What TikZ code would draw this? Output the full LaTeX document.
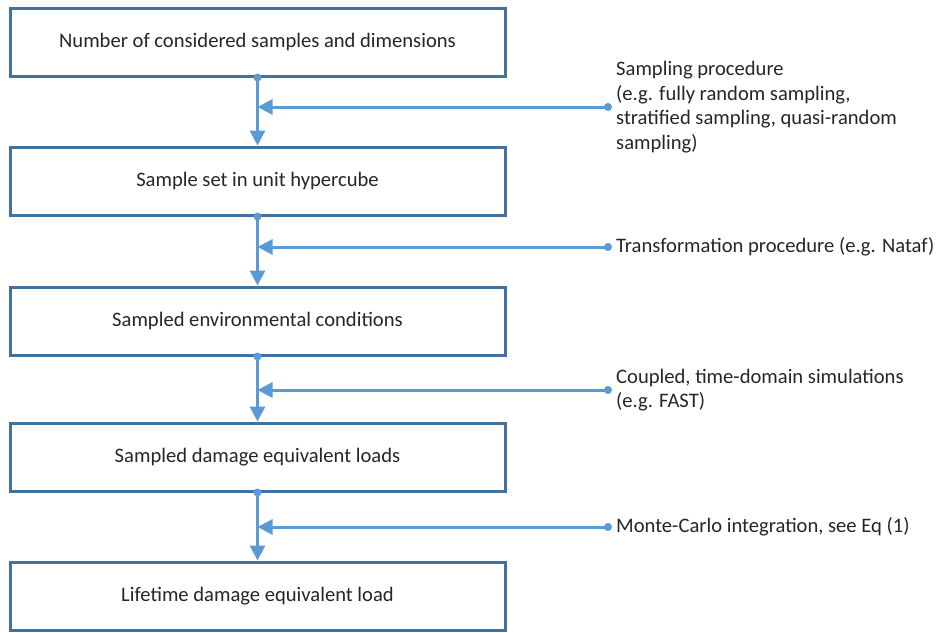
\documentclass[tikz,border=0pt]{standalone}
\usepackage{fontspec}
\setmainfont{Carlito}
\usetikzlibrary{arrows.meta}
\definecolor{boxblue}{HTML}{41719C}
\definecolor{arrowblue}{HTML}{5B9BD5}
\tikzset{
  stepbox/.style={draw=boxblue, line width=3pt, fill=white, minimum width=495pt,
    minimum height=68pt, text=black!85, font=\fontsize{20.6}{24}\selectfont},
  flow/.style={draw=arrowblue, line width=3pt, -{Triangle[length=15pt,width=15pt]}},
  proc/.style={anchor=west, inner xsep=8pt, align=left, text=black!85,
    font=\fontsize{20.6}{24.5}\selectfont},
}
\begin{document}
\begin{tikzpicture}[x=1pt,y=-1pt]
\useasboundingbox (0,0) rectangle (939,632);
\node[stepbox] (b1) at (257.5,42) {Number of considered samples and dimensions};
\node[stepbox] (b2) at (257.5,181) {Sample set in unit hypercube};
\node[stepbox] (b3) at (257.5,321) {Sampled environmental conditions};
\node[stepbox] (b4) at (257.5,457) {Sampled damage equivalent loads};
\node[stepbox] (b5) at (257.5,596) {Lifetime damage equivalent load};
% main flow
\draw[flow] (b1.south) -- (b2.north);
\draw[flow] (b2.south) -- (b3.north);
\draw[flow] (b3.south) -- (b4.north);
\draw[flow] (b4.south) -- (b5.north);
\fill[arrowblue] (b1.south) circle (4pt);
\fill[arrowblue] (b2.south) circle (4pt);
\fill[arrowblue] (b3.south) circle (4pt);
\fill[arrowblue] (b4.south) circle (4pt);
% procedures
\coordinate (p1) at (608,107);
\coordinate (p2) at (608,247);
\coordinate (p3) at (608,390);
\coordinate (p4) at (608,527);
\node[proc] (l1) at (p1) {Sampling procedure\\(e.g. fully random sampling,\\stratified sampling, quasi-random\\sampling)};
\node[proc] (l2) at (p2) {Transformation procedure (e.g. Nataf)};
\node[proc] (l3) at (p3) {Coupled, time-domain simulations\\(e.g. FAST)};
\node[proc] (l4) at (p4) {Monte-Carlo integration, see Eq (1)};
\draw[flow] (p1) -- (p1 -| b1.south);
\draw[flow] (p2) -- (p2 -| b2.south);
\draw[flow] (p3) -- (p3 -| b3.south);
\draw[flow] (p4) -- (p4 -| b4.south);
\fill[arrowblue] (p1) circle (4pt);
\fill[arrowblue] (p2) circle (4pt);
\fill[arrowblue] (p3) circle (4pt);
\fill[arrowblue] (p4) circle (4pt);
\end{tikzpicture}
\end{document}
